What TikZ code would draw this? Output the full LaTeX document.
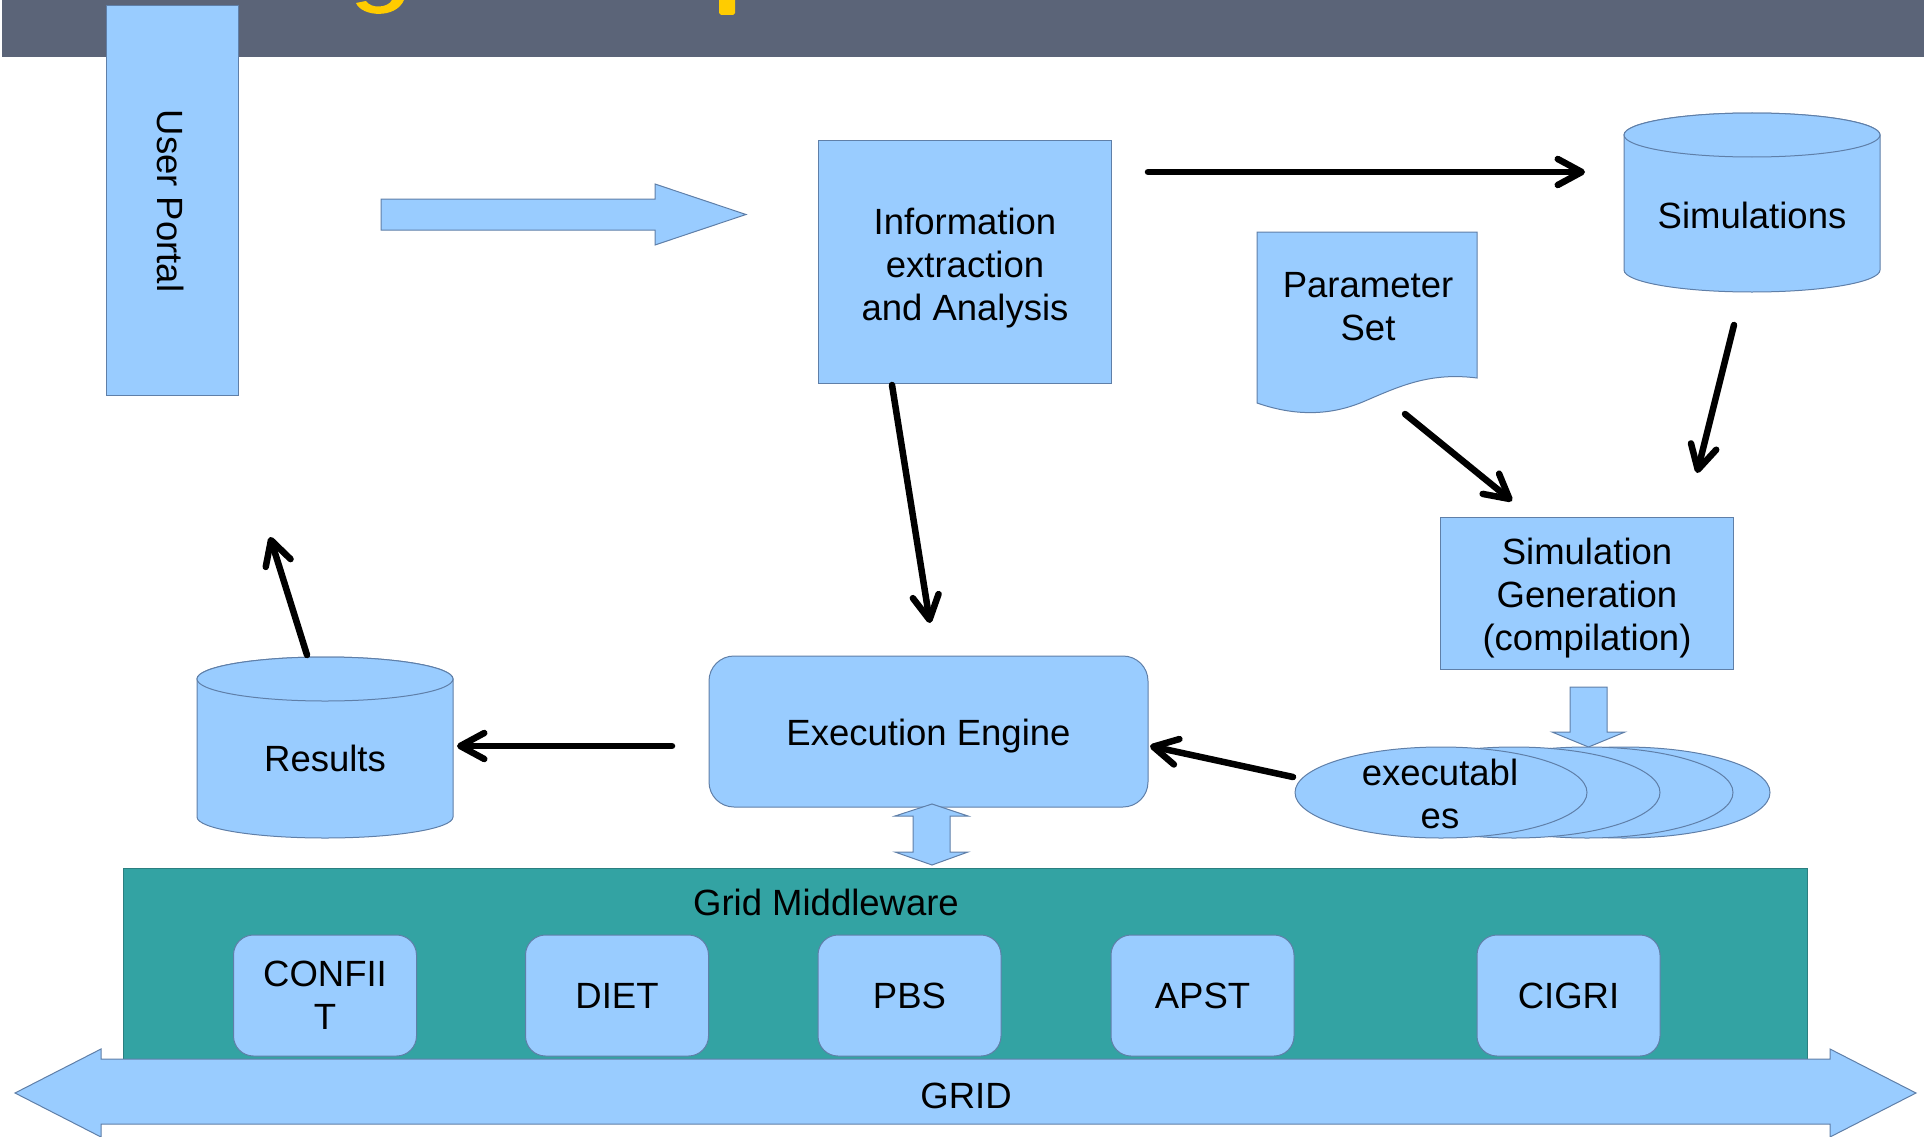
\documentclass[tikz,border=0pt]{standalone}
\usepackage{fontspec}
\setmainfont{Liberation Sans}
\usetikzlibrary{arrows.meta}
\definecolor{lb}{HTML}{99CCFF}
\definecolor{lbd}{HTML}{5F7FA8}
\definecolor{tealfill}{HTML}{33A3A3}
\definecolor{tealdark}{HTML}{2B7F80}
\definecolor{bannercol}{HTML}{5B6478}
\definecolor{ttl}{HTML}{FFCC00}
\begin{document}
\begin{tikzpicture}[x=1pt,y=-1pt,
  box/.style={draw=lbd, fill=lb, line width=1pt, inner sep=0pt},
  shapefill/.style={draw=lbd, fill=lb, line width=1pt, line join=miter},
  lbl/.style={font=\fontsize{36.5}{43}\selectfont, align=center, inner sep=0pt},
  arr/.style={line width=6.5pt, line cap=round, -{Straight Barb[length=24pt,width=26pt,round]}},
  mwbox/.style={box, rounded corners=20pt, minimum width=183pt, minimum height=121pt}
]
\useasboundingbox (0,0) rectangle (1927,1137);

% banner
\fill[bannercol] (2,0) rectangle (1924,57);
\fill[ttl] (356,3) .. controls (362,17) and (396,19) .. (404,0) -- (392,0) .. controls (388,8) and (371,9) .. (366,1) -- cycle;
\fill[ttl] (719,0) -- (735,0) -- (735,13) -- (733,15) -- (721,15) -- (719,13) -- cycle;

% user portal
\node[box, minimum width=132pt, minimum height=389pt] (portal) at (172,200.5) {};
\node[lbl, rotate=-90] (portaltxt) at (171,201) {User Portal};

% block arrow to information box
\draw[shapefill] (381,199) -- (655,199) -- (655,184) -- (746,214.5) -- (655,245) -- (655,230) -- (381,230) -- cycle;

% information box
\node[box, minimum width=293pt, minimum height=242pt] (info) at (964.5,262) {};
\node[lbl] (infotxt) at (965,268) {Information\\extraction\\and Analysis};

% simulations cylinder
\draw[shapefill] (1624,135) -- (1624,270) arc(180:0:128 and 22) -- (1880,135) arc(0:-180:128 and 22) -- cycle;
\draw[shapefill] (1752,135) ellipse (128 and 22);
\node[lbl] (sims) at (1752,215) {Simulations};

% parameter set document
\draw[shapefill] (1257,232) -- (1477,232) -- (1477,378) .. controls (1430,372) and (1400,386) .. (1365,401) .. controls (1335,414) and (1300,418) .. (1257,403) -- cycle;
\node[lbl] (param) at (1368,307) {Parameter\\Set};

% simulation generation
\node[box, minimum width=293pt, minimum height=152pt] (simgen) at (1586.5,593) {};
\node[lbl] (simgentxt) at (1587,598) {Simulation\\Generation\\(compilation)};

% down block arrow
\draw[shapefill] (1570,687) -- (1607,687) -- (1607,732) -- (1625,732) -- (1588.5,747) -- (1552,732) -- (1570,732) -- cycle;

% executables stack
\draw[shapefill] (1624,792.5) ellipse (146 and 45.5);
\draw[shapefill] (1587,792.5) ellipse (146 and 45.5);
\draw[shapefill] (1514,792.5) ellipse (146 and 45.5);
\draw[shapefill] (1441,792.5) ellipse (146 and 45.5);
\node[lbl] (exe) at (1440,794) {executabl\\es};

% execution engine
\node[box, rounded corners=25pt, minimum width=439pt, minimum height=151pt] (engine) at (928.5,731.5) {};
\node[lbl] (enginetxt) at (928.5,736.5) {Execution Engine};

% results cylinder
\draw[shapefill] (197,679) -- (197,817) arc(180:0:128 and 21) -- (453,679) arc(0:-180:128 and 22) -- cycle;
\draw[shapefill] (325,679) ellipse (128 and 22);
\node[lbl] (results) at (325,758) {Results};

% grid middleware
\node[draw=tealdark, fill=tealfill, line width=1pt, minimum width=1684pt, minimum height=191pt, inner sep=0pt] (mw) at (965,963.5) {};
\node[lbl] (mwtxt) at (826,902) {Grid Middleware};
\node[mwbox, lbl] (confiit) at (325,995.5) {CONFII\\T};
\node[mwbox, lbl] (diet) at (617,995.5) {DIET};
\node[mwbox, lbl] (pbs) at (909.5,995.5) {PBS};
\node[mwbox, lbl] (apst) at (1202.5,995.5) {APST};
\node[mwbox, lbl] (cigri) at (1568.5,995.5) {CIGRI};

% double arrow engine <-> middleware
\draw[shapefill] (932,804) -- (968,816) -- (950,816) -- (950,852) -- (968,852) -- (932,865) -- (895,852) -- (913,852) -- (913,816) -- (895,816) -- cycle;

% GRID arrow
\draw[shapefill] (15,1093) -- (101,1049) -- (101,1059) -- (1830,1059) -- (1830,1049) -- (1916,1093) -- (1830,1137) -- (1830,1124) -- (101,1124) -- (101,1137) -- cycle;
\node[lbl] (grid) at (966,1096) {GRID};

% connector end points
\coordinate (a1s) at (1148,172);  \coordinate (a1e) at (1585,172);
\coordinate (a2s) at (892,385);   \coordinate (a2e) at (930,623);
\coordinate (a3s) at (1405,414);  \coordinate (a3e) at (1512,501);
\coordinate (a4s) at (1734,325);  \coordinate (a4e) at (1697,473);
\coordinate (a5s) at (1293,777);  \coordinate (a5e) at (1150,746);
\coordinate (a6s) at (672,746);   \coordinate (a6e) at (457,746);
\coordinate (a7s) at (307,655);   \coordinate (a7e) at (270,537);

\draw[arr] (a1s) -- (a1e);
\draw[arr] (a2s) -- (a2e);
\draw[arr] (a3s) -- (a3e);
\draw[arr] (a4s) -- (a4e);
\draw[arr] (a5s) -- (a5e);
\draw[arr] (a6s) -- (a6e);
\draw[arr] (a7s) -- (a7e);
\end{tikzpicture}
\end{document}
